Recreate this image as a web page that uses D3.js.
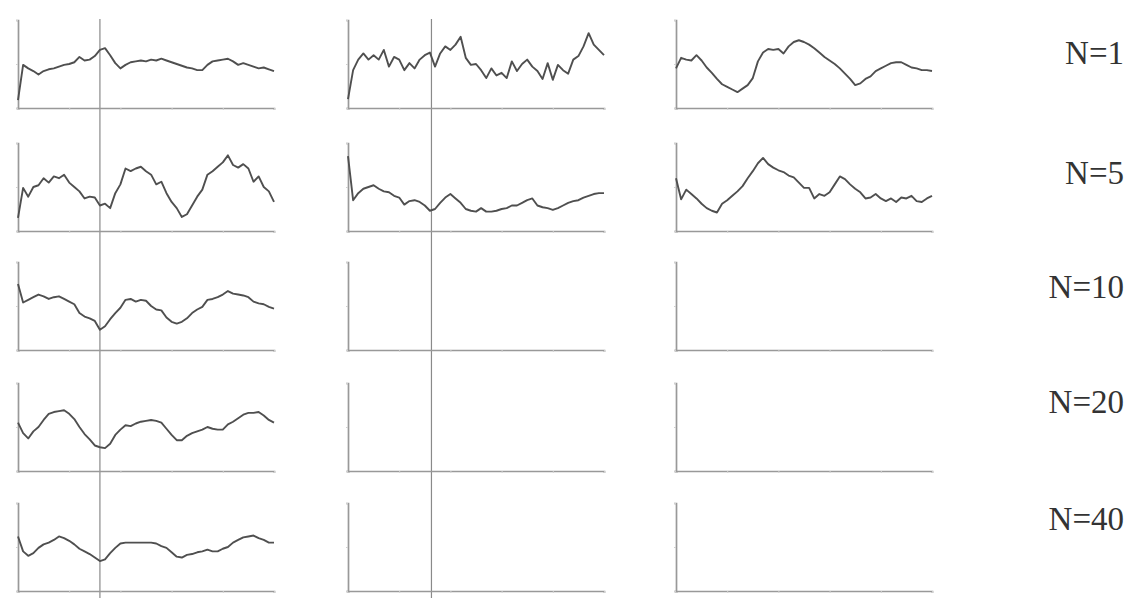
<!DOCTYPE html>
<html>

<head>
    <title>N panels</title>
    <script src="https://d3js.org/d3.v7.js"></script>
    <style>
        body {
            margin: 0;
            background: #fff;
        }

        svg text {
            font-family: "Liberation Serif", "DejaVu Serif", serif;
            fill: #333;
        }
    </style>
</head>

<body>
    <svg></svg>
    <script>
        // Data: rows are N values, columns are the three panels
        var labels = ["N=1", "N=5", "N=10", "N=20", "N=40"];

        // 51 samples per trace, values 0..100 of the panel height
        var r1c1 = [9, 49, 45, 42, 38, 42, 44, 45, 47, 49, 50, 52, 58, 54, 55, 59, 66, 68, 60, 51, 45, 49, 52, 53, 54, 53, 55, 54, 56, 54, 52, 50, 48, 46, 45, 43, 43, 49, 53, 54, 55, 56, 53, 49, 51, 49, 47, 45, 46, 44, 42];
        var r1c2 = [10, 43, 55, 62, 55, 60, 55, 66, 47, 58, 55, 43, 51, 45, 55, 60, 63, 47, 62, 70, 66, 72, 81, 57, 49, 50, 43, 34, 45, 37, 40, 34, 53, 42, 50, 55, 47, 42, 33, 51, 32, 49, 43, 39, 55, 59, 70, 85, 72, 66, 60];
        var r1c3 = [45, 57, 55, 54, 60, 54, 46, 40, 33, 27, 24, 21, 18, 22, 26, 34, 53, 63, 67, 66, 67, 62, 70, 75, 77, 75, 72, 68, 63, 58, 54, 50, 45, 39, 33, 26, 28, 33, 36, 42, 45, 48, 51, 52, 52, 49, 46, 45, 43, 43, 42];
        var r2c1 = [15, 49, 39, 50, 52, 60, 55, 62, 60, 64, 55, 50, 45, 37, 39, 38, 29, 31, 26, 43, 53, 71, 68, 71, 73, 68, 64, 53, 56, 43, 33, 26, 16, 19, 29, 39, 47, 64, 68, 73, 78, 86, 75, 72, 76, 71, 56, 62, 50, 45, 33];
        var r2c2 = [85, 35, 43, 48, 50, 52, 48, 45, 44, 40, 38, 30, 34, 35, 33, 29, 23, 25, 32, 38, 42, 37, 32, 25, 23, 22, 26, 22, 22, 23, 25, 26, 29, 29, 32, 35, 37, 29, 27, 26, 24, 26, 29, 32, 34, 35, 38, 40, 42, 43, 43];
        var r2c3 = [60, 36, 47, 42, 37, 31, 26, 23, 21, 31, 35, 40, 45, 51, 60, 68, 77, 83, 76, 72, 69, 67, 63, 61, 55, 49, 49, 37, 42, 40, 44, 53, 62, 59, 53, 48, 44, 37, 38, 42, 37, 34, 37, 33, 38, 37, 40, 34, 33, 37, 40];
        var r3c1 = [75, 54, 57, 60, 63, 61, 58, 60, 61, 58, 55, 52, 42, 38, 36, 33, 23, 27, 35, 42, 48, 57, 58, 55, 57, 56, 50, 46, 45, 37, 32, 30, 32, 36, 42, 46, 49, 57, 58, 60, 63, 67, 64, 63, 62, 60, 55, 53, 52, 49, 47];
        var r4c1 = [55, 43, 37, 45, 50, 58, 65, 67, 68, 69, 65, 59, 50, 42, 36, 29, 27, 26, 31, 41, 47, 52, 51, 54, 56, 57, 58, 57, 55, 48, 41, 35, 35, 40, 43, 45, 47, 50, 48, 47, 47, 53, 56, 60, 64, 66, 66, 67, 63, 58, 55];
        var r5c1 = [62, 45, 40, 43, 49, 53, 55, 58, 62, 60, 57, 53, 48, 45, 42, 38, 34, 36, 43, 49, 54, 55, 55, 55, 55, 55, 55, 54, 51, 49, 44, 39, 38, 41, 42, 44, 45, 47, 45, 45, 48, 50, 55, 58, 61, 62, 63, 60, 58, 55, 55];

        // empty panels have no trace
        var panels = [
            [r1c1, r1c2, r1c3],
            [r2c1, r2c2, r2c3],
            [r3c1, null, null],
            [r4c1, null, null],
            [r5c1, null, null]
        ];

        var xTicks = [0, 10, 20, 30, 40, 50];
        var markerX = [16, 16.3]; // vertical guide in columns 1 and 2

        // Layout
        var width = 1136;
        var height = 603;
        var colLeft = [18, 348, 676];
        var panelWidth = 256;
        var rowTop = [20, 143, 262, 383, 503];
        var panelHeight = 88;
        var labelY = [64, 184, 298, 413, 530];

        var svg = d3.select("svg")
            .attr("width", width)
            .attr("height", height);

        // soften the strokes a little, like a scanned figure
        // (user space region so thin vertical lines are not clipped away)
        svg.append("defs").append("filter")
            .attr("id", "soft")
            .attr("filterUnits", "userSpaceOnUse")
            .attr("x", 0).attr("y", 0)
            .attr("width", width).attr("height", height)
            .append("feGaussianBlur")
            .attr("stdDeviation", 0.45);

        var x = d3.scaleLinear().domain([0, 50]).range([0, panelWidth]);
        var y = d3.scaleLinear().domain([0, 100]).range([panelHeight, 0]);

        var line = d3.line()
            .x(function (d, i) { return x(i); })
            .y(function (d) { return y(d); });

        var plot = svg.append("g").attr("filter", "url(#soft)");

        // vertical guide lines running down through the first two columns
        plot.selectAll(".guide")
            .data(markerX)
            .enter()
            .append("line")
            .attr("class", "guide")
            .attr("x1", function (d, i) { return colLeft[i] + x(d); })
            .attr("x2", function (d, i) { return colLeft[i] + x(d); })
            .attr("y1", 19)
            .attr("y2", 598)
            .attr("stroke", "#8a8a8a")
            .attr("stroke-width", 1.2);

        panels.forEach(function (row, r) {
            row.forEach(function (series, c) {
                var g = plot.append("g")
                    .attr("transform", "translate(" + colLeft[c] + "," + rowTop[r] + ")");

                // x axis with faint ticks
                var xa = g.append("g")
                    .attr("transform", "translate(0," + panelHeight + ")")
                    .call(d3.axisBottom(x).tickValues(xTicks).tickSize(2).tickFormat(""));
                xa.select(".domain").attr("stroke", "#999").attr("stroke-width", 1.7);
                xa.selectAll(".tick line").attr("stroke", "#d0d0d0");

                // y axis
                var ya = g.append("g")
                    .call(d3.axisLeft(y).tickValues([0, 50, 100]).tickSize(2).tickFormat(""));
                ya.select(".domain").attr("stroke", "#999").attr("stroke-width", 1.7);
                ya.selectAll(".tick line").attr("stroke", "#d0d0d0");

                if (series) {
                    g.append("path")
                        .datum(series)
                        .attr("d", line)
                        .attr("fill", "none")
                        .attr("stroke", "#505050")
                        .attr("stroke-width", 1.9)
                        .attr("stroke-linejoin", "round");
                }
            });
        });

        // row labels
        svg.selectAll(".label")
            .data(labels)
            .enter()
            .append("text")
            .attr("class", "label")
            .attr("x", 1124)
            .attr("y", function (d, i) { return labelY[i]; })
            .attr("text-anchor", "end")
            .style("font-size", "33px")
            .text(function (d) { return d; });
    </script>
</body>

</html>
